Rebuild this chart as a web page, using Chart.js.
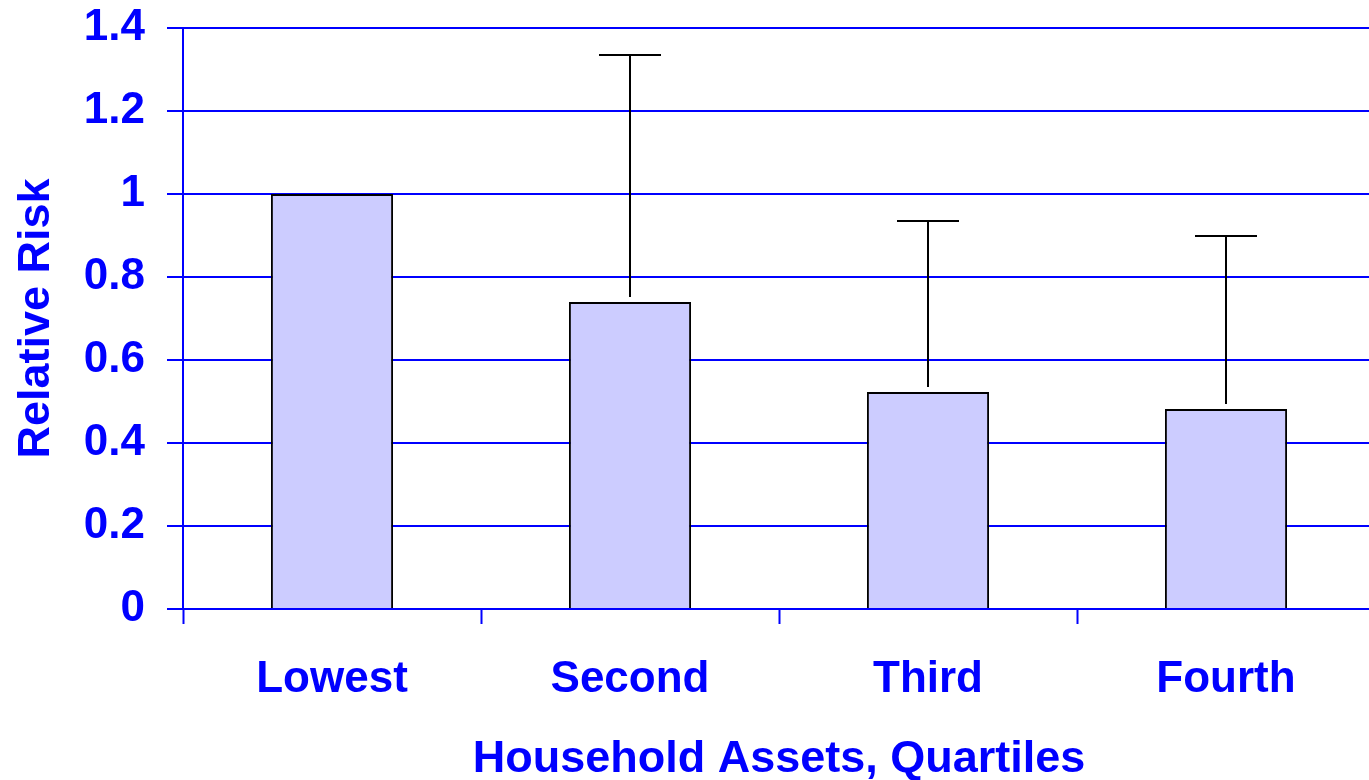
<!DOCTYPE html>
<html>
<head>
<meta charset="utf-8">
<title>Relative Risk by Household Assets</title>
<script src="https://cdn.jsdelivr.net/npm/chart.js@4.4.1/dist/chart.umd.min.js"></script>
<style>
    html, body { margin: 0; padding: 0; background: #ffffff; overflow: hidden; }
    /* the plot runs a few px past the right edge in the original, so the canvas is cut */
    #wrap { width: 1369px; height: 780px; overflow: hidden; }
</style>
</head>
<body>
<div id="wrap"><canvas id="rrChart" width="1375" height="780"></canvas></div>
<script>
// --- Data ---
const quartiles = ['Lowest', 'Second', 'Third', 'Fourth'];
const relativeRisk = [1.0, 0.74, 0.523, 0.482];
const upperLimit = [null, 1.335, 0.935, 0.899];
const yTickLabels = ['0', '0.2', '0.4', '0.6', '0.8', '1', '1.2', '1.4'];

// --- Styles ---
const BLUE = '#0000FF';
const FONT = '"Liberation Sans", Arial, sans-serif';

// error bars: line from just above the bar up to the upper limit, with a cap
const errorBarPlugin = {
    id: 'errorBars',
    afterDatasetsDraw(chart) {
        const { ctx, scales: { y } } = chart;
        const meta = chart.getDatasetMeta(0);
        ctx.save();
        ctx.strokeStyle = '#000000';
        ctx.lineWidth = 2;
        meta.data.forEach((bar, i) => {
            if (upperLimit[i] == null) return;
            const x = bar.x;
            const yTop = y.getPixelForValue(upperLimit[i]);
            const yBar = y.getPixelForValue(relativeRisk[i]) - 5;
            ctx.beginPath();
            ctx.moveTo(x, yBar);
            ctx.lineTo(x, yTop);
            ctx.moveTo(x - 31, yTop);
            ctx.lineTo(x + 31, yTop);
            ctx.stroke();
        });
        ctx.restore();
    }
};

const ctx = document.getElementById('rrChart').getContext('2d');
new Chart(ctx, {
    type: 'bar',
    data: {
        labels: quartiles,
        datasets: [{
            data: relativeRisk,
            backgroundColor: '#CCCCFF',
            borderColor: '#000000',
            borderWidth: 2,
            categoryPercentage: 1,
            barPercentage: 0.41
        }]
    },
    options: {
        responsive: false,
        animation: false,
        devicePixelRatio: 1,
        layout: { padding: { top: 28, left: 0, right: 0, bottom: 0 } },
        plugins: { legend: { display: false }, tooltip: { enabled: false } },
        scales: {
            x: {
                z: 1,
                grid: {
                    drawOnChartArea: false,
                    drawTicks: true,
                    tickLength: 15,
                    tickColor: BLUE,
                    tickWidth: 2
                },
                border: { color: BLUE, width: 2 },
                ticks: {
                    color: BLUE,
                    font: { family: FONT, size: 44, weight: 'bold' },
                    padding: 29,
                    maxRotation: 0,
                    autoSkip: false
                },
                title: {
                    display: true,
                    text: 'Household Assets, Quartiles',
                    color: BLUE,
                    font: { family: FONT, size: 45, weight: 'bold', lineHeight: 0.9 },
                    padding: { top: 0, bottom: 0 }
                },
                afterFit: (scale) => {
                    scale.height = 171;
                    scale.paddingLeft = 0;
                    scale.paddingRight = 0;
                }
            },
            y: {
                min: 0,
                max: 1.4,
                ticks: {
                    stepSize: 0.2,
                    color: BLUE,
                    font: { family: FONT, size: 44, weight: 'bold' },
                    padding: 22,
                    callback: (value, index) => yTickLabels[index]
                },
                grid: {
                    color: BLUE,
                    lineWidth: 2,
                    drawTicks: true,
                    tickLength: 16,
                    tickColor: BLUE,
                    tickWidth: 2
                },
                border: { color: BLUE, width: 2 },
                title: {
                    display: true,
                    text: 'Relative Risk',
                    color: BLUE,
                    font: { family: FONT, size: 45, weight: 'bold', lineHeight: 1 },
                    padding: { top: 14, bottom: 0 }
                },
                afterFit: (scale) => {
                    scale.width = 183;
                    scale.paddingTop = 0;
                    scale.paddingBottom = 0;
                }
            }
        }
    },
    plugins: [errorBarPlugin]
});
</script>
</body>
</html>
